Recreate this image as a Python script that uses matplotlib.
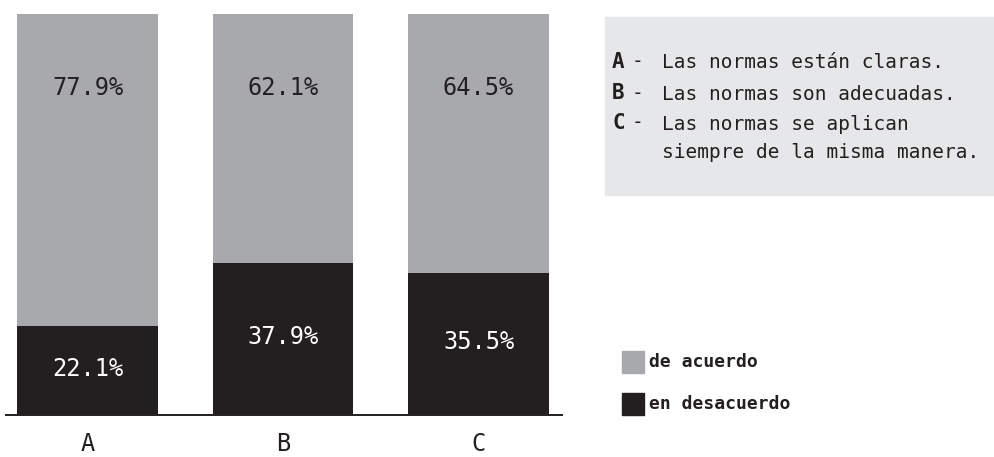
import matplotlib.pyplot as plt
from matplotlib.patches import Rectangle

# Data
categories      = ["A", "B", "C"]
de_acuerdo      = [77.9, 62.1, 64.5]
en_desacuerdo   = [22.1, 37.9, 35.5]
descriptions    = [
    ("A", "Las normas están claras."),
    ("B", "Las normas son adecuadas."),
    ("C", "Las normas se aplican\nsiempre de la misma manera."),
]

# Style
c_light         = "#a7a9ac"
c_dark          = "#231f20"
c_box           = "#e6e7e8"
mono            = "DejaVu Sans Mono"

W, H            = 994, 457
fig             = plt.figure(figsize=(W / 100, H / 100), dpi=100)

def fx(px):
    return px / W

def fy(py):
    return 1 - py / H

ax              = fig.add_axes([fx(6), fy(415), fx(562) - fx(6), fy(14) - fy(415)])

x               = list(range(len(categories)))
width           = 0.72

ax.bar(x, en_desacuerdo, width=width, color=c_dark, zorder=2)
ax.bar(x, de_acuerdo, width=width, bottom=en_desacuerdo, color=c_light, zorder=2)

# Value labels
for i in x:
    ax.text(i, 81.5, f"{de_acuerdo[i]}%", ha="center", va="center",
            fontsize=17, family=mono, color=c_dark)
    ax.text(i, en_desacuerdo[i] / 2 + 0.5, f"{en_desacuerdo[i]}%", ha="center", va="center",
            fontsize=17, family=mono, color="white")

ax.set_xlim(-0.417, 2.427)
ax.set_ylim(0, 100)
ax.set_xticks(x)
ax.set_xticklabels(categories, family=mono, fontsize=17, color=c_dark)
ax.tick_params(axis="x", length=0, pad=12)
ax.set_yticks([])
for s in ["top", "right", "left"]:
    ax.spines[s].set_visible(False)
ax.spines["bottom"].set_color(c_dark)
ax.spines["bottom"].set_linewidth(1.4)
ax.spines["bottom"].set_zorder(1)

# Description box
fig.patches.append(Rectangle((fx(605), fy(195)), fx(994) - fx(605), fy(17) - fy(195),
                             transform=fig.transFigure, color=c_box, zorder=0))

line_y          = [62, 93, 123]
for (letter, desc), py in zip(descriptions, line_y):
    fig.text(fx(612), fy(py), letter, family=mono, fontsize=15, fontweight="bold",
             color=c_dark, va="center", ha="left")
    fig.text(fx(632), fy(py), "-", family=mono, fontsize=14,
             color=c_dark, va="center", ha="left")
    fig.text(fx(662), fy(py - 8.5), desc, family=mono, fontsize=14, color=c_dark,
             va="top", ha="left", linespacing=1.6)

# Colour key
key             = [(c_light, "de acuerdo", 351), (c_dark, "en desacuerdo", 393)]
for color, label, top in key:
    fig.patches.append(Rectangle((fx(622), fy(top + 22)), fx(644) - fx(622), fy(top) - fy(top + 22),
                                 transform=fig.transFigure, color=color))
    fig.text(fx(649), fy(top + 11), label, family=mono, fontsize=13, fontweight="semibold",
             color=c_dark, va="center", ha="left")

fig.savefig("out.png", dpi=100)
